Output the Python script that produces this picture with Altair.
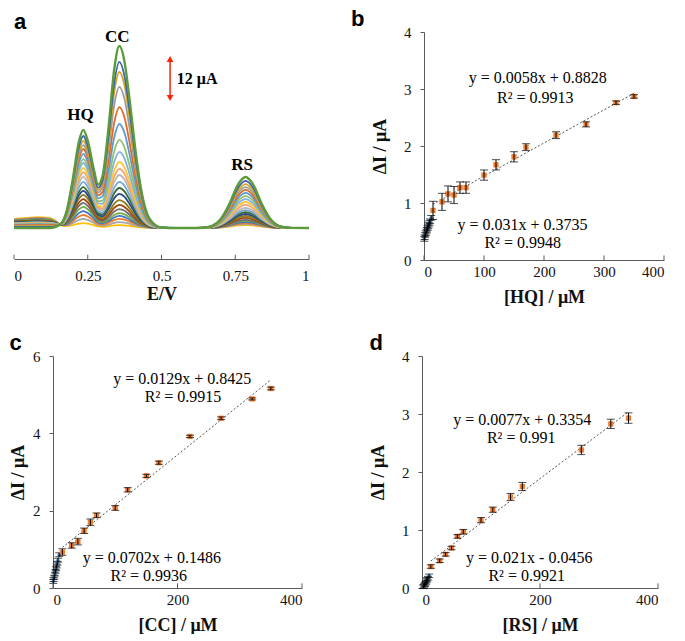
import altair as alt
import pandas as pd

# ---------------- Panel a : voltammograms ----------------
E_PTS = [0.00, 0.04, 0.08, 0.12, 0.14, 0.16, 0.18, 0.20, 0.22, 0.235, 0.25, 0.27, 0.285,
         0.30, 0.32, 0.34, 0.357, 0.375, 0.39, 0.41, 0.43, 0.46, 0.50, 0.55, 0.60, 0.64,
         0.67, 0.70, 0.73, 0.76, 0.785, 0.81, 0.84, 0.87, 0.90, 0.94, 1.00]
HQ_SHAPE = [0, 0, 0, 0, 0.01, 0.045, 0.19, 0.51, 0.88, 1.0, 0.88, 0.55, 0.27,
            0.11, 0.025, 0, 0, 0, 0, 0, 0, 0, 0, 0, 0, 0,
            0, 0, 0, 0, 0, 0, 0, 0, 0, 0, 0]
CC_SHAPE = [0, 0, 0, 0, 0, 0, 0, 0, 0, 0, 0.005, 0.03, 0.093,
            0.225, 0.53, 0.875, 1.0, 0.91, 0.73, 0.45, 0.22, 0.05, 0.003, 0, 0, 0,
            0, 0, 0, 0, 0, 0, 0, 0, 0, 0, 0]
RS_SHAPE = [0, 0, 0, 0, 0, 0, 0, 0, 0, 0, 0, 0, 0,
            0, 0, 0, 0, 0, 0, 0, 0, 0, 0, 0, 0, 0.006,
            0.038, 0.17, 0.47, 0.86, 1.0, 0.86, 0.47, 0.17, 0.038, 0.003, 0]
BG_SHAPE = [1.0, 1.1, 1.2, 1.1, 0.8, 0.3, 0.1, 0.05, 0, 0, 0, 0, 0,
            0, 0, 0, 0, 0, 0, 0, 0, 0, 0, 0, 0, 0,
            0, 0, 0, 0, 0, 0, 0, 0, 0, 0, 0]

# peak currents (uA) of each voltammogram, outermost first
HQ_PEAK = [30.2, 28.3, 26.8, 25.5, 24.3, 22.8, 21.2, 20.0, 18.5, 17.2, 15.7, 14.2,
           12.6, 11.4, 10.2, 8.9, 7.7, 6.5, 5.2, 4.0, 2.8, 1.5]
CC_PEAK = [56.0, 51.1, 48.0, 43.4, 37.2, 32.0, 27.1, 23.4, 20.3, 18.2, 16.3, 14.2,
           12.3, 10.5, 8.6, 7.1, 5.8, 4.6, 3.7, 2.8, 1.8, 0.9]
RS_PEAK = [15.7, 14.5, 13.5, 12.6, 11.7, 10.8, 9.8, 8.9, 8.0, 7.1, 6.2, 5.5,
           4.9, 4.3, 3.7, 3.1, 2.5, 2.2, 1.8, 1.5, 1.2, 0.9]
BG_LEVEL = [0.0, 0.3, 0.5, 0.6, 0.8, 0.9, 1.0, 1.1, 1.2, 1.3, 1.4, 1.5,
            1.6, 1.7, 1.8, 1.9, 2.0, 2.2, 2.3, 2.5, 2.6, 2.8]
CURVE_COLORS = ["#5B9B3B", "#3A62B0", "#D9A21B", "#9C9C9C", "#E06A25", "#5B9BD5",
                "#8DC26F", "#7FB2E0", "#FFC533", "#F2A36E", "#B8B8B8", "#6FA8DC",
                "#3E6B2A", "#26478A", "#8F7A1A", "#9E480E", "#6D6D6D", "#70AD47",
                "#4472C4", "#ED7D31", "#A5A5A5", "#FFC000"]

E_TICKS = [0, 0.25, 0.5, 0.75, 1]
I_RANGE = [-9.54, 60.3]
PEAK_LABELS = ["HQ", "CC", "RS"]
PEAK_LABEL_E = [0.2256, 0.350, 0.773]
PEAK_LABEL_I = [34.8, 58.8, 19.4]
SCALE_BAR_E = 0.529
SCALE_BAR_I = [40, 52]
SCALE_TEXT = "12 μA"

# ---------------- Panels b-d : calibration ----------------
HQ_X = [15, 30, 40, 50, 60, 70, 100, 120, 150, 170, 220, 270, 320, 350]
HQ_Y = [0.87, 1.02, 1.16, 1.14, 1.27, 1.27, 1.49, 1.67, 1.81, 1.98, 2.19, 2.38, 2.76, 2.87]
HQ_E = [0.16, 0.15, 0.14, 0.15, 0.10, 0.10, 0.09, 0.09, 0.09, 0.06, 0.06, 0.045, 0.03, 0.03]
HQ_LX = [0.5, 1, 2, 3, 4, 5, 6, 7, 8, 9, 10, 12]
HQ_LY = [0.37, 0.40, 0.44, 0.47, 0.50, 0.53, 0.56, 0.59, 0.62, 0.65, 0.68, 0.74]
HQ_LE = [0.04] * 12

CC_X = [15, 30, 40, 50, 60, 70, 100, 120, 150, 170, 220, 270, 320, 350]
CC_Y = [0.93, 1.10, 1.20, 1.48, 1.70, 1.88, 2.07, 2.54, 2.90, 3.24, 3.92, 4.39, 4.89, 5.16]
CC_E = [0.085, 0.07, 0.085, 0.07, 0.085, 0.06, 0.06, 0.055, 0.04, 0.04, 0.03, 0.035, 0.026, 0.035]
CC_LX = [0.5, 1, 2, 3, 4, 5, 6, 7, 8, 10]
CC_LY = [0.17, 0.22, 0.28, 0.36, 0.43, 0.50, 0.57, 0.64, 0.72, 0.86]
CC_LE = [0.05] * 10

RS_X = [15, 30, 40, 50, 60, 70, 100, 120, 150, 170, 270, 320, 350]
RS_Y = [0.37, 0.47, 0.58, 0.69, 0.89, 0.97, 1.17, 1.35, 1.57, 1.75, 2.38, 2.83, 2.93]
RS_E = [0.03, 0.03, 0.03, 0.03, 0.03, 0.04, 0.045, 0.045, 0.06, 0.07, 0.08, 0.08, 0.09]
RS_LX = [2, 3, 4, 5, 6, 7, 8, 9, 10, 12]
RS_LY = [0.02, 0.03, 0.05, 0.06, 0.08, 0.10, 0.13, 0.15, 0.17, 0.21]
RS_LE = [0.03] * 10

EQ_B = ["y = 0.0058x + 0.8828", "R² = 0.9913", "y = 0.031x + 0.3735", "R² = 0.9948"]
EQ_B_X = [189.5, 185.5, 164, 164.5]
EQ_B_Y = [3.19, 2.85, 0.62, 0.30]
EQ_C = ["y = 0.0129x + 0.8425", "R² = 0.9915", "y = 0.0702x + 0.1486", "R² = 0.9936"]
EQ_C_X = [207.6, 209, 158.8, 154]
EQ_C_Y = [5.41, 4.95, 0.785, 0.31]
EQ_D = ["y = 0.0077x + 0.3354", "R² = 0.991", "y = 0.021x - 0.0456", "R² = 0.9921"]
EQ_D_X = [169.8, 168.1, 181.7, 177.4]
EQ_D_Y = [2.897, 2.58, 0.52, 0.20]

SERIF = "Liberation Serif"
SANS = "Liberation Sans"
AXIS_COLOR = "#5a5a5a"
ORANGE = "#ED7D31"
BLUE = "#5B9BD5"

# ---------- build panel a ----------
rows = []
n = len(HQ_PEAK)
for i in reversed(range(n)):
    for j, e in enumerate(E_PTS):
        rows.append({
            "curve": f"c{i:02d}", "E": e,
            "I": HQ_PEAK[i] * HQ_SHAPE[j] + CC_PEAK[i] * CC_SHAPE[j]
                 + RS_PEAK[i] * RS_SHAPE[j] + BG_LEVEL[i] * BG_SHAPE[j],
        })
cv = pd.DataFrame(rows)
curve_ids = [f"c{i:02d}" for i in range(n)]

xs_a = alt.Scale(domain=[0, 1], nice=False)
ya_scale = alt.Scale(domain=I_RANGE, nice=False, zero=False)
xa = alt.X("E:Q", scale=xs_a,
           axis=alt.Axis(values=E_TICKS, format=".2~f", title="E/V", tickSize=0,
                         labelFlush=True, labelPadding=9, titlePadding=2))
ya = alt.Y("I:Q", scale=ya_scale, axis=None)

inner = alt.Chart(cv[cv["curve"] != "c00"]).mark_line(
    strokeWidth=1.8, interpolate="monotone").encode(
    x=xa, y=ya,
    color=alt.Color("curve:N", scale=alt.Scale(domain=curve_ids, range=CURVE_COLORS), legend=None),
    detail="curve:N")
outer = alt.Chart(cv[cv["curve"] == "c00"]).mark_line(
    strokeWidth=2.4, interpolate="monotone", color=CURVE_COLORS[0]).encode(x="E:Q", y=ya)

et_df = pd.DataFrame({"E": E_TICKS, "I": [I_RANGE[0]] * 5, "I2": [I_RANGE[0] + 1.3] * 5})
eticks = alt.Chart(et_df).mark_rule(color=AXIS_COLOR).encode(x="E:Q", y=ya, y2="I2:Q")

peak_df = pd.DataFrame({"E": PEAK_LABEL_E, "I": PEAK_LABEL_I, "t": PEAK_LABELS})
peak_text = alt.Chart(peak_df).mark_text(font=SERIF, fontSize=17, fontWeight="bold",
                                          color="black").encode(x="E:Q", y=ya, text="t:N")

bar_df = pd.DataFrame({"E": [SCALE_BAR_E], "I": [SCALE_BAR_I[0]], "I2": [SCALE_BAR_I[1]]})
bar = alt.Chart(bar_df).mark_rule(color="#FF2200", strokeWidth=1.5).encode(
    x="E:Q", y=ya, y2="I2:Q")
up_df = pd.DataFrame({"E": [SCALE_BAR_E], "I": [SCALE_BAR_I[1]]})
dn_df = pd.DataFrame({"E": [SCALE_BAR_E], "I": [SCALE_BAR_I[0]]})
head_up = alt.Chart(up_df).mark_point(shape="triangle-up", filled=True, color="#FF2200",
                                       size=45, opacity=1).encode(x="E:Q", y=ya)
head_dn = alt.Chart(dn_df).mark_point(shape="triangle-down", filled=True, color="#FF2200",
                                       size=45, opacity=1).encode(x="E:Q", y=ya)
bar_text = alt.Chart(pd.DataFrame({"E": [0.552], "I": [45.8], "t": [SCALE_TEXT]})).mark_text(
    font=SERIF, fontSize=16, fontWeight="bold", align="left", color="black").encode(
    x="E:Q", y=ya, text="t:N")

panel_a = alt.layer(inner, outer, eticks, peak_text, bar, head_up, head_dn, bar_text).properties(
    width=295, height=227,
    title=alt.TitleParams("a", anchor="start", frame="group", offset=-6))


def cal_panel(letter, hx, hy, he, lx, ly, le, ydom, yticks, xticks, w, h,
              eqs, eqx, eqy, xtitle, ytitle_pad, title_frame, title_dx):
    xs = alt.Scale(domain=[0, 400], nice=False)
    ys = alt.Scale(domain=ydom, nice=False)
    X = alt.X("x:Q", scale=xs, axis=alt.Axis(values=xticks, format="d", title=xtitle,
                                             tickSize=0, labelPadding=4, titlePadding=9))
    Y = alt.Y("y:Q", scale=ys, axis=alt.Axis(values=yticks, format="d", title="ΔI / μA",
                                             tickSize=4, labelPadding=9,
                                             titlePadding=ytitle_pad))
    hdf = pd.DataFrame({"x": hx, "y": hy, "lo": [a - b for a, b in zip(hy, he)],
                        "hi": [a + b for a, b in zip(hy, he)]})
    ldf = pd.DataFrame({"x": lx, "y": ly, "lo": [a - b for a, b in zip(ly, le)],
                        "hi": [a + b for a, b in zip(ly, le)]})
    layers = []
    for df, col, shp, sz in ((ldf, BLUE, "diamond", 22), (hdf, ORANGE, "square", 28)):
        base = alt.Chart(df)
        trend = base.transform_regression("x", "y").mark_line(
            color="#555555", strokeWidth=1, strokeDash=[2, 2]).encode(x=X, y=Y)
        rule = base.mark_rule(color="black", strokeWidth=1).encode(
            x=X, y=alt.Y("lo:Q", scale=ys), y2="hi:Q")
        cap1 = base.mark_tick(orient="horizontal", size=8, thickness=1, color="black").encode(
            x=X, y=alt.Y("lo:Q", scale=ys))
        cap2 = base.mark_tick(orient="horizontal", size=8, thickness=1, color="black").encode(
            x=X, y=alt.Y("hi:Q", scale=ys))
        pts = base.mark_point(shape=shp, filled=True, color=col, size=sz, opacity=1).encode(
            x=X, y=Y)
        layers += [trend, pts, rule, cap1, cap2]
    tdf = pd.DataFrame({"x": xticks, "y": [ydom[0]] * len(xticks),
                        "y2": [ydom[0] + (ydom[1] - ydom[0]) * 0.02] * len(xticks)})
    tk = alt.Chart(tdf).mark_rule(color=AXIS_COLOR).encode(x=X, y=Y, y2="y2:Q")
    eq = alt.Chart(pd.DataFrame({"x": eqx, "y": eqy, "t": eqs})).mark_text(
        font=SERIF, fontSize=16, color="black").encode(x=X, y=Y, text="t:N")
    return alt.layer(*layers, tk, eq).properties(
        width=w, height=h,
        title=alt.TitleParams(letter, anchor="start", frame=title_frame, offset=-6,
                              dx=title_dx))


def spacer():
    return alt.Chart(pd.DataFrame({"v": [0]})).mark_text(text="").encode(
        x=alt.X("v:Q", axis=None), y=alt.Y("v:Q", axis=None)).properties(width=1, height=1)


panel_b = cal_panel("b", HQ_X, HQ_Y, HQ_E, HQ_LX, HQ_LY, HQ_LE, [0, 4], [0, 1, 2, 3, 4],
                    [0, 100, 200, 300, 400], 240, 228, EQ_B, EQ_B_X, EQ_B_Y,
                    "[HQ] / μM", 14, "group", -73)
panel_c = cal_panel("c", CC_X, CC_Y, CC_E, CC_LX, CC_LY, CC_LE, [0, 6], [0, 2, 4, 6],
                    [0, 200, 400], 249, 232, EQ_C, EQ_C_X, EQ_C_Y,
                    "[CC] / μM", 5, "bounds", 0)
panel_d = cal_panel("d", RS_X, RS_Y, RS_E, RS_LX, RS_LY, RS_LE, [0, 4], [0, 1, 2, 3, 4],
                    [0, 200, 400], 236, 232, EQ_D, EQ_D_X, EQ_D_Y,
                    "[RS] / μM", 14, "bounds", 0)

row1 = alt.hconcat(spacer(), alt.hconcat(panel_a, panel_b, spacing=37), spacing=0)
row2 = alt.hconcat(spacer(), alt.hconcat(panel_c, panel_d, spacing=66), spacing=0)

chart = alt.vconcat(row1, row2, spacing=26).properties(
    padding=0).configure_view(stroke=None).configure_axis(
    grid=False, domainColor=AXIS_COLOR, tickColor=AXIS_COLOR, labelFont=SERIF,
    labelFontSize=15, labelColor="#111111", titleFont=SERIF, titleFontSize=18,
    titleFontWeight="bold", titleColor="#111111").configure_title(
    font=SANS, fontSize=22, fontWeight="bold", color="black")

chart.save("out.html", embed_options={"renderer": "svg", "actions": False})
